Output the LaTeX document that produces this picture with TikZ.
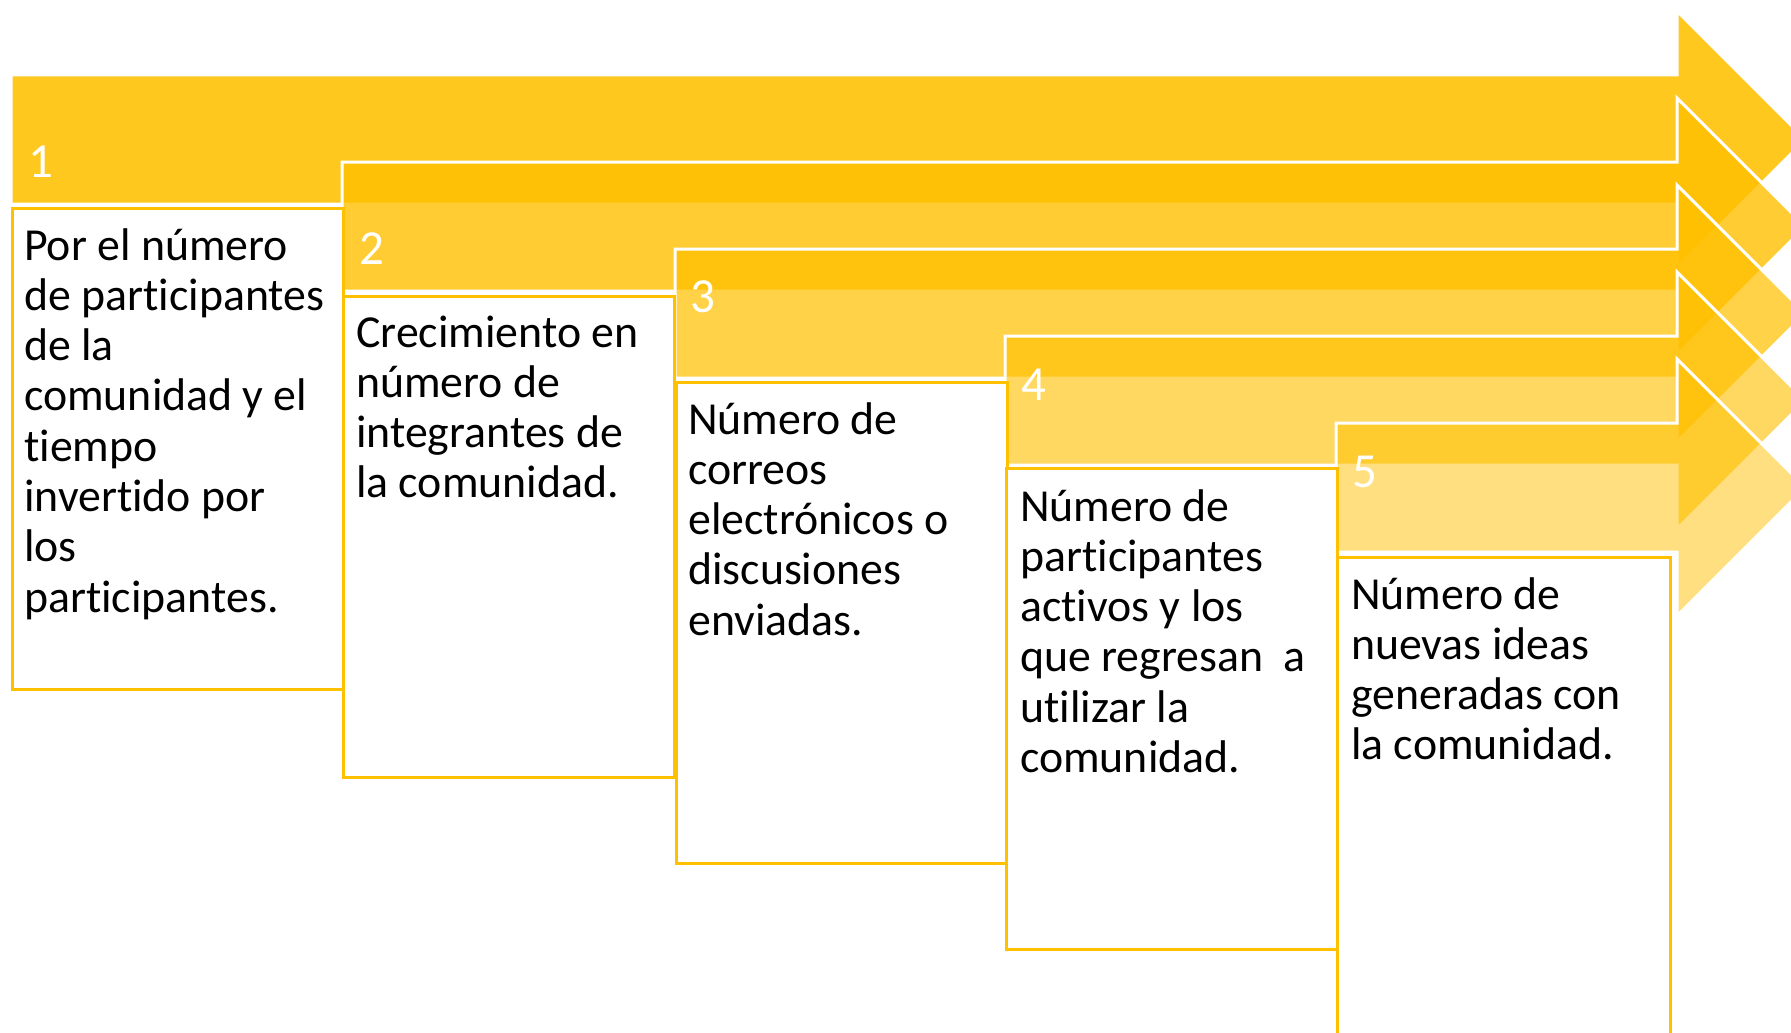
\documentclass[tikz,border=0pt]{standalone}
\usepackage{fontspec}
\setmainfont{Carlito}[Ligatures=NoCommon]
\definecolor{gold}{HTML}{FFC000}
\tikzset{
  arrowshape/.style={fill=gold, draw=white, line width=3, line join=miter},
  textbox/.style={draw=gold, fill=white, line width=2.5, anchor=north west,
    minimum width=331, minimum height=481, inner sep=0},
  boxtext/.style={anchor=base west, inner sep=0, text=black,
    font=\fontsize{45.8}{50.3}\selectfont},
  numlabel/.style={anchor=base west, inner sep=0, text=white,
    font=\fontsize{49}{55}\selectfont}
}
\begin{document}
\begin{tikzpicture}[x=1pt,y=-1pt]
\useasboundingbox (0,0) rectangle (1791,1033);
\clip (0,0) rectangle (1791,1033);
% arrows
\foreach \L/\T/\op in {11/75/0.88, 342/162/0.8, 675/249/0.72, 1005/336/0.62, 1336/423/0.5} {
  \filldraw[arrowshape, fill opacity=\op]
    (\L,\T) -- (1677,\T) -- (1677,\T-64) -- (1805.5,\T+64.5)
    -- (1677,\T+193) -- (1677,\T+129) -- (\L,\T+129) -- cycle;
}
% number labels
\node[numlabel] (n1) at (28,177) {1};
\node[numlabel] (n2) at (359,264) {2};
\node[numlabel] (n3) at (690,312) {3};
\node[numlabel] (n4) at (1021,400) {4};
\node[numlabel] (n5) at (1352,487) {5};
% text boxes
\node[textbox] (box1) at (11,207) {};
\node[textbox] (box2) at (342,295) {};
\node[textbox] (box3) at (675,381) {};
\node[textbox] (box4) at (1005,467) {};
\node[textbox, minimum width=333] (box5) at (1336,556) {};
% texts
\node[boxtext] (t1) at (24,260) {\parbox[t]{330pt}{\raggedright
  Por el número\\de participantes\\de la\\comunidad y el\\tiempo\\invertido por\\los\\participantes.}};
\node[boxtext] (t2) at (356,347) {\parbox[t]{330pt}{\raggedright
  Crecimiento en\\número de\\integrantes de\\la comunidad.}};
\node[boxtext] (t3) at (688,434) {\parbox[t]{330pt}{\raggedright
  Número de\\correos\\electrónicos o\\discusiones\\enviadas.}};
\node[boxtext] (t4) at (1020,521) {\parbox[t]{330pt}{\raggedright
  Número de\\participantes\\activos y los\\que regresan~ a\\utilizar la\\comunidad.}};
\node[boxtext] (t5) at (1351,609) {\parbox[t]{330pt}{\raggedright
  Número de\\nuevas ideas\\generadas con\\la comunidad.}};
\end{tikzpicture}
\end{document}
